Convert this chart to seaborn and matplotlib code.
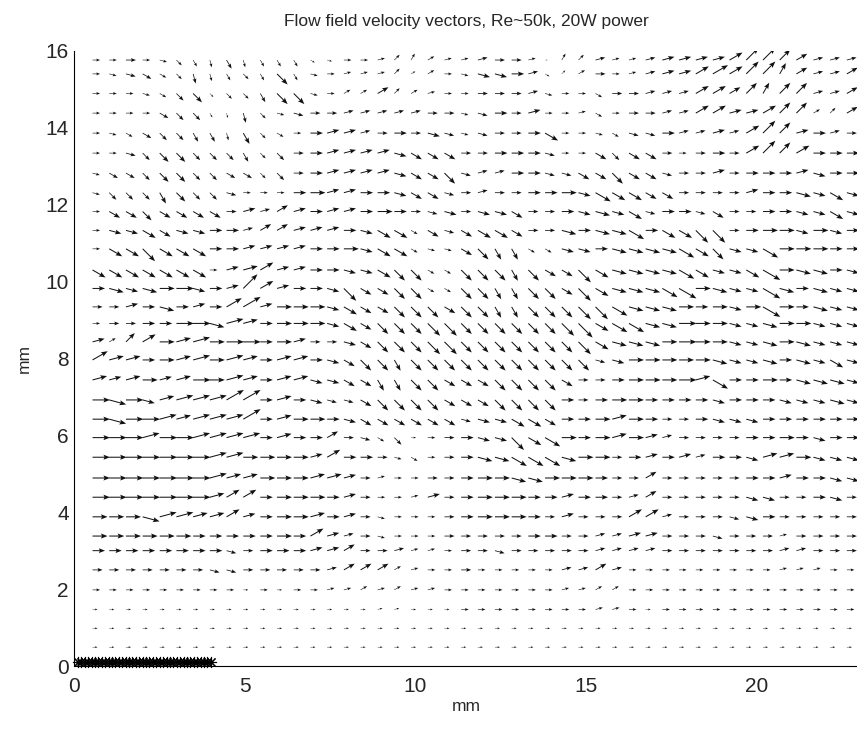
import numpy as np
import matplotlib
matplotlib.use("Agg")
import matplotlib.pyplot as plt
import seaborn as sns

title = "Flow field velocity vectors, Re~50k, 20W power"

# grid of the PIV vectors (mm)
x_cols = [0.53, 1.02, 1.51, 2.00, 2.50, 2.99, 3.48, 3.97, 4.46, 4.95, 5.45, 5.94,
          6.43, 6.92, 7.41, 7.90, 8.39, 8.89, 9.38, 9.87, 10.36, 10.85, 11.34, 11.83,
          12.33, 12.82, 13.31, 13.80, 14.29, 14.78, 15.28, 15.77, 16.26, 16.75, 17.24,
          17.73, 18.22, 18.72, 19.21, 19.70, 20.19, 20.68, 21.17, 21.67, 22.16, 22.65]
y_rows = [15.76, 15.40, 14.89, 14.38, 13.86, 13.34, 12.82, 12.31, 11.82, 11.33, 10.85,
          10.30, 9.82, 9.34, 8.91, 8.43, 7.96, 7.44, 6.92, 6.42, 5.94, 5.43, 4.89, 4.39,
          3.88, 3.38, 3.00, 2.50, 1.98, 1.47, 0.98, 0.49]

# direction letters -> angle in degrees
dir_deg = {"a": -75, "b": -60, "c": -45, "d": -30, "e": -15, "f": 0,
           "g": 15, "h": 30, "i": 45, "j": 60}

# one string per row (top to bottom), token = speed digit + direction letter
field_rows = [
    "3f 3f 4f 3f 3e 3c 3b 3a 4b 3a 3b 3b 3b 2d 2e 3f 3f 3g 3i 3j 3h 3g 3g 4g 4f 4f 3g 1f 3j 3i 4g 3g 3g 4g 5g 5g 5g 5g 6h 7i 7i 6i 5h 4g 4g 4g",
    "3f 3e 4e 4d 3d 3c 4a 3a 3b 3c 3b 6c 3b 3e 3f 3g 3g 3g 3i 2h 3h 3f 3e 5e 5e 5f 4g 2d 2i 3h 4f 3f 3g 4g 5g 5g 6h 7h 6h 7i 7i 5j 5h 4g 4g 5h",
    "3f 3f 3f 3e 3d 4c 5c 2c 3c 3c 4b 6c 6c 3e 3f 3h 3h 5h 3i 3h 3g 3f 3f 4f 4f 4f 4g 3e 3f 3f 3d 4f 4f 4g 4g 4g 6h 6h 5h 6i 5j 6i 6i 4g 4g 5h",
    "3f 3f 3f 3f 4d 4c 4c 2b 2a 4a 3c 3e 4e 4f 4f 4g 4g 4g 4g 4g 4f 4f 3e 4e 5f 4f 5g 3f 3f 3g 3d 3f 4f 4f 4g 4g 6h 6h 5g 5g 6h 6i 6i 3h 3i 5h",
    "3f 3e 3d 4d 4c 4c 4b 4b 3a 5b 3c 3d 3f 5f 5g 5g 4g 4f 5f 4f 5e 4e 3e 4e 4f 4f 5f 6d 3f 3f 3e 3d 4e 4e 5f 4g 4g 5g 4g 6h 7i 6i 5g 5f 4g 4f",
    "3f 3f 4e 4c 5c 5c 4c 4c 4c 4b 3c 4c 4f 5f 5g 5g 5g 5g 5e 5d 5d 5d 4f 4f 5f 5f 5f 4e 3f 3f 5d 4c 5d 5d 4f 3f 4f 5f 4f 6h 7i 6i 6h 5f 5f 5f",
    "3e 4d 4d 4c 5c 5c 4c 4c 4d 4d 3c 4c 4f 5f 5g 5g 5g 5g 5e 5d 5d 6c 4e 4g 4g 5f 5f 4e 4e 5d 5d 6c 5d 5d 4e 4f 4f 5g 4f 5f 5f 5f 5g 5e 5f 5f",
    "3e 4c 4c 4c 5b 5c 4c 4c 4e 3f 3f 3f 5f 6f 5g 5g 5f 5f 5e 5d 5d 4e 4f 4g 4f 4f 5f 5f 6f 5e 7d 6d 6d 5d 5d 4f 4f 4f 4f 5g 5f 5f 6e 5e 6d 5e",
    "3f 5d 5d 5c 5d 5d 5d 5d 4f 5g 4g 5h 5g 5f 5g 5g 5f 6f 5f 4f 4e 5e 4f 5e 5e 5d 4f 4f 5f 5e 6e 5e 6d 4e 5f 5f 4e 5d 4f 4f 5f 5f 5e 5e 6d 5e",
    "3f 5e 5e 6d 5d 5e 5e 5f 5f 4g 5h 5h 5g 5g 5g 5f 5e 6d 6d 3d 5d 4e 5d 6d 6d 5d 4f 4f 6e 5f 6e 6e 7d 5f 6d 6d 7c 7c 4f 5f 6f 6f 5e 6f 5e 5f",
    "3f 6d 6d 7c 6d 6d 6d 5f 5f 5g 5g 5g 5g 5f 5f 6f 5e 6d 6d 3d 3e 3e 5d 6c 5b 5b 3d 3d 5e 5e 5f 6e 6e 6e 6e 7d 6d 6c 5e 5e 7d 6f 6f 6f 5f 5f",
    "6d 6d 6d 6d 6d 6d 6d 3f 5g 6g 6h 5g 5g 5f 5f 5e 5e 6d 6c 6c 3d 3d 6c 6c 6c 5b 6c 5d 5d 7c 6d 6e 6e 6e 6e 7d 6d 5e 5e 6d 8d 6f 6e 6e 5f 5e",
    "5f 6e 5e 6e 6f 7f 5e 5f 5g 8i 6h 5g 5f 5f 5e 7c 5d 5d 6c 6c 3d 3d 6c 6c 5b 5b 6c 6c 5d 7c 6d 6e 6e 6e 7d 8d 6f 6e 5e 5e 8d 6e 5f 6e 5e 5e",
    "4f 4f 5g 5f 6e 5f 5g 5f 7h 8h 5g 6f 6f 6f 5e 6d 5d 5d 6c 6c 6c 5d 6c 6c 5b 5b 6c 6c 6c 7c 7c 7d 6e 6e 6e 6f 5f 6f 5e 6f 8d 6f 5f 6e 5e 5e",
    "3f 4f 4f 5f 5f 7f 7f 6e 7g 6g 5f 6f 6f 6f 5e 6d 5d 6c 6c 6c 7c 7c 6c 6c 6c 6c 6c 6c 7c 8c 6d 7d 7d 6e 6e 7f 6f 6f 5e 5e 6e 6f 6f 5e 5e 5e",
    "5g 3h 5i 6h 6f 6g 7g 6f 7f 7f 5f 6f 5g 4f 4f 5e 5d 6c 6c 6c 7c 7c 6c 6c 6c 6c 6c 6c 6c 7c 6d 6e 6e 6e 6f 7f 6f 6f 5e 5e 6e 6f 6e 5e 5e 5e",
    "7h 6g 6g 5f 6f 6g 7g 6f 7g 6g 5f 6g 6g 5f 5e 5d 6c 6c 5b 6c 6c 6c 6c 6c 6c 6c 6c 6c 6c 6c 4e 5e 6f 6f 6f 6f 6f 6e 5e 5e 6e 5f 6e 5e 6d 5e",
    "6g 5g 6g 6f 5g 6g 7f 6f 7g 6g 5f 6g 6g 5e 5e 5d 5d 5b 5b 6c 6c 5d 5d 5d 6c 6c 6c 6c 5d 4f 4f 5f 6f 6f 6f 7f 6g 7d 5f 5f 6f 5f 6e 6e 6e 5e",
    "7f 7e 7f 5e 6g 7g 7g 7g 8h 8h 5f 6g 5f 5e 4e 4e 5d 6c 6c 6c 6c 5d 5d 5d 6c 6c 6c 6c 5f 4f 5f 6f 6f 5f 5f 5f 5f 5e 5f 5f 5f 5e 5e 5e 6e 5e",
    "7f 7e 7f 7f 7g 6g 7g 7g 7g 8h 5f 6g 6f 6f 5f 5e 5d 5d 5d 5d 5d 5d 4e 5e 5e 6d 6d 5d 5f 5f 6f 6g 6f 5f 4f 4f 5f 5e 5e 5e 5f 5f 5f 5f 5f 5f",
    "7f 7f 7f 7g 7f 7f 7g 7g 7g 7g 5f 6g 5f 5f 5h 4f 4e 3d 4c 2f 3f 4f 5f 5e 5e 7c 6d 7d 6f 5f 6f 6g 6f 5g 4g 4f 4f 4f 4f 5f 5f 6f 5f 5e 5f 5f",
    "7f 7f 7f 7f 7f 7f 7f 7g 7g 6f 6f 6f 6f 5g 6h 5f 5f 4f 3e 3d 3f 4f 5f 6e 6e 7d 7d 7d 6e 6f 6f 4f 5f 5g 5f 5g 4g 5f 5f 5e 6g 6g 6f 5e 5e 5e",
    "7f 7f 7f 7f 7f 7f 7f 7g 6g 6g 6f 6f 6f 6g 6g 5g 4f 3g 3f 3f 4f 4f 5f 6f 6f 6e 6e 6f 6f 6f 5f 4f 4f 5h 4f 4f 4f 4f 4f 5f 5f 5g 5f 5f 5e 5e",
    "7f 7f 7f 7f 7f 7f 7f 6g 6h 6h 5f 6f 6f 6f 5f 5g 4f 3f 3f 3g 5g 4f 5f 6f 6f 6f 5f 5f 5g 5f 5f 4f 4g 5h 4f 4f 4f 4f 4f 5e 5e 4f 4f 5f 5e 4f",
    "6f 6f 6f 7e 7g 7g 6g 6g 6h 5g 5f 6f 6f 6g 5f 5g 4f 3e 3f 3f 3f 4f 5f 6f 6f 6f 5f 4f 5g 4f 4f 4f 6h 6h 4g 4f 4f 4f 4e 5e 5f 4f 4f 4f 4f 4f",
    "6f 6f 6f 6f 6f 6f 5f 5f 5f 5f 5f 6f 5f 6h 5g 4g 4f 3e 3f 3f 3f 4f 4f 4f 4f 4f 5f 5f 4f 4f 4g 4g 5g 5g 4f 4f 4f 4e 4f 4f 4f 3g 4f 4f 4f 4f",
    "5f 5f 5f 5f 5f 5f 5f 5f 4e 4f 5f 5f 5f 5g 5g 5h 4f 4f 4g 3g 3g 3f 4f 4f 4e 4f 4f 4f 4f 4f 4g 4g 4g 4g 4f 4f 4f 4f 4f 4f 4f 4g 4g 4f 4f 4f",
    "4f 4f 4f 4f 4f 4f 4f 4e 4e 4f 4f 4f 4f 4f 4g 5h 5h 5h 3h 3g 3f 3f 4f 3f 3f 3f 3f 3f 4g 4g 5h 4g 3f 3f 3f 3f 3f 3f 3f 3f 3f 3g 3g 3g 3f 3f",
    "3f 3f 3f 3f 3f 3f 3f 3f 3f 2f 3f 2f 3f 3f 3g 3g 3h 3g 3h 3g 3g 3f 3f 3f 3f 3f 3f 3f 3g 3g 3h 3h 3f 3f 3f 3f 3f 3f 3f 3f 3f 3f 3f 3f 3f 3f",
    "2f 2f 2f 2f 2f 2f 2f 2f 2f 2f 2f 2f 2f 2f 2f 2f 2f 2g 2g 2f 2f 2f 3f 3f 3f 3f 3f 3f 3f 3f 3g 3g 3f 2f 3f 3f 3f 3f 3f 3f 3f 3f 3f 3f 3f 3f",
    "2f 2f 2f 2f 2f 2f 2f 2f 2f 2f 2f 2f 2f 2f 2f 2f 2f 2f 2f 2f 2f 2f 2f 2f 2f 2f 2f 2f 2f 2f 2f 2f 2f 2f 2f 2f 2f 2f 2f 2f 2f 2f 2f 2f 2f 2f",
    "2f 2f 2f 2f 2f 2f 2f 2f 2f 2f 2f 2f 2f 2f 2f 2f 2f 2f 2f 2f 2f 2f 2f 2f 2f 2f 2f 2f 2f 2f 2f 2f 2f 2f 2f 2f 2f 2f 2f 2f 2f 2f 2f 2f 2f 2f",
]

# heater strip markers along the wall
heater_x = [0.1, 0.2, 0.3, 0.4, 0.5, 0.6, 0.7, 0.8, 0.9, 1.0, 1.1, 1.2, 1.3, 1.4,
            1.5, 1.6, 1.7, 1.8, 1.9, 2.0, 2.1, 2.2, 2.3, 2.4, 2.5, 2.6, 2.7, 2.8,
            2.9, 3.0, 3.1, 3.2, 3.3, 3.4, 3.5, 3.6, 3.7, 3.8, 3.9, 4.0]
heater_y = 0.11

sns.set_style("white")
plt.rcParams["font.family"] = ["Liberation Sans", "DejaVu Sans"]

X, Y, U, V = [], [], [], []
for y, row in zip(y_rows, field_rows):
    tokens = row.split()
    assert len(tokens) == len(x_cols)
    for x, tok in zip(x_cols, tokens):
        speed = int(tok[0])
        ang = np.deg2rad(dir_deg[tok[1]])
        X.append(x)
        Y.append(y)
        U.append(speed * np.cos(ang))
        V.append(speed * np.sin(ang))

fig = plt.figure(figsize=(8.57, 7.29), dpi=100)
ax = fig.add_axes([0.0869, 0.0864, 0.9152, 0.8439])

ax.quiver(X, Y, U, V, angles="uv", scale_units="x", scale=13.64, pivot="tail",
          color="#111111", width=0.0013, headwidth=5, headlength=6.5,
          headaxislength=5.5, minshaft=2)
# asterisk markers (8 spokes, like MATLAB '*')
ax.plot(heater_x, np.full(len(heater_x), heater_y), linestyle="none",
        marker=(8, 2, 0), color="black", ms=8, mew=0.8, clip_on=False)

ax.set_xlim(0, 23)
ax.set_ylim(0, 16)
ax.set_xticks([0, 5, 10, 15, 20])
ax.set_yticks(range(0, 17, 2))
ax.tick_params(direction="in", length=5, width=0.8, labelsize=15, color="black")
ax.tick_params(axis="x", pad=8)
ax.tick_params(axis="y", pad=4)
for side in ["top", "right"]:
    ax.spines[side].set_visible(False)
for side in ["left", "bottom"]:
    ax.spines[side].set_color("black")
    ax.spines[side].set_linewidth(0.8)

ax.set_title(title, fontsize=12.5, pad=18)
ax.set_xlabel("mm", fontsize=12.5, labelpad=2)
ax.set_ylabel("mm", fontsize=12.5, labelpad=10)

fig.savefig("out.png", dpi=100)
